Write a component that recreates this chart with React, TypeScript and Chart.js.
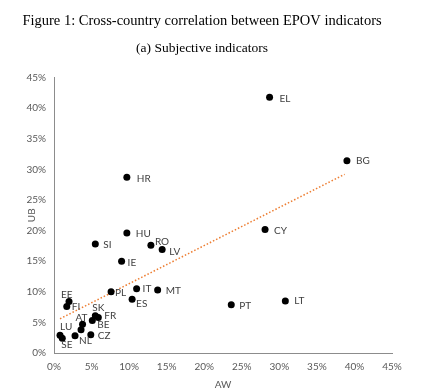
import React, { useEffect, useRef } from "react";
import { Chart, registerables } from "chart.js";

Chart.register(...registerables);

const TITLE = "Figure 1: Cross-country correlation between EPOV indicators";
const SUBTITLE = "(a) Subjective indicators";
const X_TITLE = "AW";
const Y_TITLE = "UB";

// Country codes ("" = unlabelled point)
const countries = ["EL", "BG", "CY", "HR", "HU", "SI", "RO", "LV", "IE", "IT", "MT", "PL", "ES", "EE", "FI", "SK", "FR", "BE", "AT", "", "NL", "CZ", "LU", "SE", "PT", "LT"];
// AW (%) values
const awValues = [28.7, 39.0, 28.1, 9.7, 9.7, 5.5, 12.9, 14.4, 9.0, 11.0, 13.8, 7.6, 10.4, 2.0, 1.7, 5.5, 5.9, 5.1, 3.8, 3.6, 2.8, 4.9, 0.8, 1.1, 23.6, 30.8];
// UB (%) values
const ubValues = [41.8, 31.4, 20.2, 28.7, 19.6, 17.8, 17.6, 16.9, 15.0, 10.5, 10.3, 10.0, 8.8, 8.4, 7.6, 6.1, 5.8, 5.3, 4.7, 3.8, 2.8, 3.0, 2.9, 2.4, 7.9, 8.5];

// Linear trend line end points
const trendX = [0.8, 38.7];
const trendY = [5.6, 29.2];

const xTicks = [0, 5, 10, 15, 20, 25, 30, 35, 40, 45];
const yTicks = [0, 5, 10, 15, 20, 25, 30, 35, 40, 45];

// Label placement relative to its point (style, px)
const labelOffsets: Record<string, [number, number]> = {
  EL: [10, 2], BG: [9, 0], CY: [9, 1], HR: [10, 1], HU: [9, 1], SI: [8, 1],
  RO: [4, -4], LV: [7, 2], IE: [6, 2], IT: [6, 0], MT: [8, 1], PL: [4, 1],
  ES: [4, 5], EE: [-8, -7], FI: [5, 0], SK: [-3, -8], FR: [6, -2], BE: [5, 4],
  AT: [-7, -6], NL: [4, 5], CZ: [7, 1], LU: [0, -8], SE: [-1, 6], PT: [8, 1], LT: [9, 0],
};

const TICK_FONT = { family: "Lato, 'Open Sans', sans-serif", size: 10 };
const GREY = "#595959";

const pointLabels = {
  id: "pointLabels",
  afterDatasetsDraw(chart: any) {
    const meta = chart.getDatasetMeta(0);
    const ctx = chart.ctx;
    ctx.save();
    ctx.font = "10px Lato, 'Open Sans', sans-serif";
    ctx.fillStyle = "#404040";
    ctx.textAlign = "left";
    ctx.textBaseline = "middle";
    meta.data.forEach((el: any, i: number) => {
      const name = countries[i];
      if (!name) return;
      const [dx, dy] = labelOffsets[name] || [8, 0];
      ctx.fillText(name, el.x + dx, el.y + dy);
    });
    ctx.restore();
  },
};

export default function App() {
  const ref = useRef<HTMLCanvasElement | null>(null);

  useEffect(() => {
    if (!ref.current) return;
    const points = awValues.map((x, i) => ({ x, y: ubValues[i] }));
    const trend = trendX.map((x, i) => ({ x, y: trendY[i] }));
    const chart = new Chart(ref.current, {
      type: "scatter",
      data: {
        datasets: [
          {
            data: points,
            backgroundColor: "#000000",
            borderColor: "#000000",
            pointRadius: 3.5,
            pointBorderWidth: 0,
          },
          {
            data: trend,
            showLine: true,
            borderColor: "#ED7D31",
            borderWidth: 1.5,
            borderDash: [1.5, 2],
            pointRadius: 0,
            fill: false,
          },
        ],
      },
      options: {
        animation: false,
        responsive: false,
        devicePixelRatio: 1,
        layout: { padding: { left: 0, right: 28, top: 0, bottom: 0 } },
        plugins: {
          legend: { display: false },
          tooltip: { enabled: false },
          title: {
            display: true,
            text: TITLE,
            color: "#000",
            font: { family: "'Liberation Serif', 'DejaVu Serif', serif", size: 14.5, weight: "normal" },
            padding: { top: 12, bottom: 7 },
          },
          subtitle: {
            display: true,
            text: SUBTITLE,
            color: "#000",
            font: { family: "'Liberation Serif', 'DejaVu Serif', serif", size: 13.5, weight: "normal" },
            padding: { top: 4, bottom: 21 },
          },
        },
        scales: {
          x: {
            type: "linear",
            min: xTicks[0],
            max: xTicks[xTicks.length - 1],
            afterBuildTicks: (s: any) => { s.ticks = xTicks.map((v) => ({ value: v })); },
            ticks: { callback: (v: any) => v + "%", color: GREY, font: TICK_FONT, padding: 8, maxRotation: 0 },
            grid: { display: false, drawTicks: false },
            border: { display: true, color: "#8c8c8c", width: 1 },
            title: { display: true, text: X_TITLE, color: GREY, font: TICK_FONT, padding: { top: 0, bottom: 1 } },
            afterFit: (s: any) => { s.height = 39; },
          },
          y: {
            type: "linear",
            min: yTicks[0],
            max: yTicks[yTicks.length - 1],
            afterBuildTicks: (s: any) => { s.ticks = yTicks.map((v) => ({ value: v })); },
            ticks: { callback: (v: any) => v + "%", color: GREY, font: TICK_FONT, padding: 8 },
            grid: { display: false, drawTicks: false },
            border: { display: true, color: "#8c8c8c", width: 1 },
            title: { display: true, text: Y_TITLE, color: GREY, font: TICK_FONT, padding: { top: 26, bottom: 0 } },
            afterFit: (s: any) => { s.width = 54; },
          },
          y2: {
            type: "linear",
            position: "right",
            display: true,
            ticks: { display: false },
            grid: { display: false, drawTicks: false },
            border: { display: false },
            afterFit: (s: any) => { s.width = 12; },
          },
        },
      },
      plugins: [pointLabels],
    } as any);
    return () => chart.destroy();
  }, []);

  return (
    <div style={{ position: "fixed", left: 0, top: 0, width: 432, height: 392, background: "#fff" }}>
      <canvas ref={ref} width={432} height={392} style={{ width: 432, height: 392, display: "block" }} />
    </div>
  );
}
